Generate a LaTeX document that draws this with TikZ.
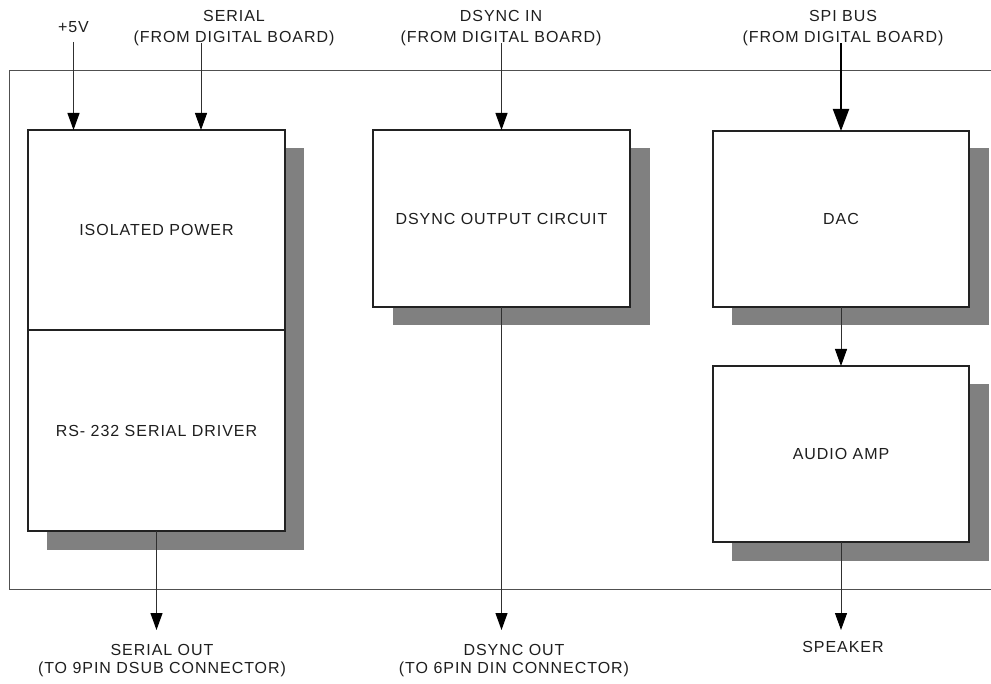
\documentclass[tikz,border=0pt]{standalone}
\usepackage{fontspec}
\setmainfont{Liberation Sans}[LetterSpace=6]
\usetikzlibrary{arrows.meta}
\definecolor{shadowgray}{HTML}{808080}
\definecolor{boxline}{HTML}{222222}
\definecolor{arrline}{HTML}{303030}
\definecolor{outerline}{HTML}{505050}
\definecolor{txt}{HTML}{1E1E1E}
\begin{document}
\begin{tikzpicture}[x=1pt,y=-1pt,
  toplbl/.style={font=\fontsize{16}{21.5}\selectfont, text=txt, inner sep=0pt, align=center, anchor=north},
  botlbl/.style={font=\fontsize{16}{18}\selectfont, text=txt, inner sep=0pt, align=center, anchor=north},
  blk/.style={draw=boxline, line width=1.1pt, fill=white, minimum width=257pt, inner sep=0pt, outer sep=0pt, font=\fontsize{16}{19}\selectfont, text=txt},
  shad/.style={fill=shadowgray, draw=none},
  arr/.style={draw=arrline, line width=1pt, -{Triangle[length=17pt,width=12pt,color=black]}},
  thickarr/.style={draw=black, line width=2pt, -{Triangle[length=22pt,width=16pt,color=black]}},
  outerbox/.style={draw=outerline, line width=1pt}
]
\useasboundingbox (0,0) rectangle (991,684);
\clip (0,0) rectangle (991,684);

% enclosing board outline
\draw[outerbox] (9,71) rectangle (1005,589);

% shadows
\fill[shad] (47,148) rectangle (304,550);
\fill[shad] (393,148) rectangle (650,325);
\fill[shad] (732,148) rectangle (989,325);
\fill[shad] (732,384) rectangle (989,561);

% blocks
\node[blk, minimum height=200pt] (ipow) at (156.5,230) {ISOLATED POWER};
\node[blk, minimum height=201pt] (rs) at (156.5,430.5) {RS- 232 SERIAL DRIVER};
\node[blk, minimum height=177pt] (dsync) at (501.5,218.5) {DSYNC OUTPUT CIRCUIT};
\node[blk, minimum width=256pt, minimum height=176pt] (dac) at (841,219) {DAC};
\node[blk, minimum width=256pt, minimum height=176pt] (amp) at (841,454) {AUDIO AMP};

% top labels
\node[font=\fontsize{16}{19}\selectfont, text=txt, inner sep=0pt] (l5v) at (73.5,27) {+5V};
\node[toplbl] (lser) at (234,10) {SERIAL\\(FROM DIGITAL BOARD)};
\node[toplbl] (ldin) at (501,10) {DSYNC IN\\(FROM DIGITAL BOARD)};
\node[toplbl] (lspi) at (843,10) {SPI BUS\\(FROM DIGITAL BOARD)};

% bottom labels
\node[botlbl] (lsout) at (162,644) {SERIAL OUT\\(TO 9PIN DSUB CONNECTOR)};
\node[botlbl] (ldout) at (514,644) {DSYNC OUT\\(TO 6PIN DIN CONNECTOR)};
\node[botlbl] (lspk) at (843,641) {SPEAKER};

% arrow endpoints
\coordinate (c5v) at (73.5,42);
\coordinate (cser) at (201,43);
\coordinate (cdin) at (501.5,43);
\coordinate (cspi) at (841,43);
\coordinate (csout) at (156.5,630);
\coordinate (cdout) at (501.5,630);
\coordinate (cspk) at (841,630);

% connectors
\draw[arr] (c5v) -- (c5v |- ipow.north);
\draw[arr] (cser) -- (cser |- ipow.north);
\draw[arr] (cdin) -- (dsync.north);
\draw[thickarr] (cspi) -- (dac.north);
\draw[arr] (dac.south) -- (amp.north);
\draw[arr] (rs.south) -- (csout);
\draw[arr] (dsync.south) -- (cdout);
\draw[arr] (amp.south) -- (cspk);
\end{tikzpicture}
\end{document}
